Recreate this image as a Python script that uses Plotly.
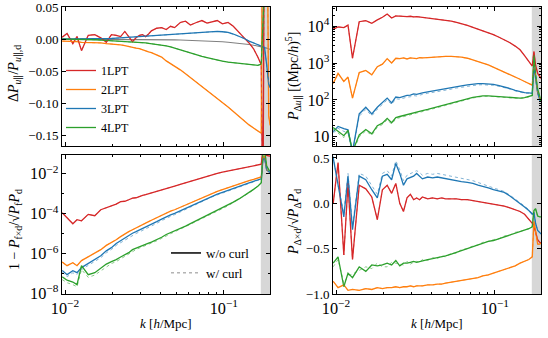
import plotly.graph_objects as go

# k bins [h/Mpc]
k = [0.0096, 0.0103, 0.0112, 0.0119, 0.0127, 0.0140, 0.0154, 0.0168, 0.0182, 0.0196,
     0.0210, 0.0224, 0.0238, 0.0252, 0.0266, 0.0280, 0.0294, 0.0308, 0.0322, 0.0336,
     0.0350, 0.0378, 0.0406, 0.0434, 0.0462, 0.0490, 0.0532, 0.0574, 0.0616, 0.0672,
     0.0728, 0.0784, 0.0840, 0.0910, 0.0980, 0.1064, 0.1148, 0.1246, 0.1344, 0.1442,
     0.1540, 0.1638, 0.1722, 0.1764, 0.1806, 0.1862, 0.1918, 0.1960]

labels = ['1LPT', '2LPT', '3LPT', '4LPT']
colors = ['#d62728', '#ff7f0e', '#1f77b4', '#2ca02c']

# top left: Delta P_u / P_u,d
dp_1 = [0.003, 0.009, -0.007, 0.004, -0.018, 0.006, 0.007, 0.002, -0.005, 0.007,
        0.006, 0.004, 0.012, 0.003, -0.004, 0.002, 0.006, 0.007, 0.004, 0.008,
        0.013, 0.017, 0.018, 0.015, 0.020, 0.018, 0.026, 0.028, 0.022, 0.026,
        0.029, 0.025, 0.027, 0.029, 0.024, 0.026, 0.020, 0.010, 0.002, -0.006,
        -0.015, -0.028, -0.040, -0.300, 0.300, 0.300, 0.300, 0.300]
dp_2 = [-0.003, -0.003, -0.004, -0.004, -0.005, -0.005, -0.0055, -0.006, -0.007, -0.0075,
        -0.008, -0.009, -0.010, -0.011, -0.012, -0.014, -0.015, -0.017, -0.018, -0.020,
        -0.021, -0.024, -0.028, -0.034, -0.038, -0.042, -0.048, -0.054, -0.060, -0.067,
        -0.073, -0.079, -0.085, -0.092, -0.099, -0.106, -0.113, -0.121, -0.128, -0.134,
        -0.139, -0.143, -0.147, 0.300, 0.300, 0.300, -0.120, -0.135]
dp_3 = [0.0, 0.0, 0.0005, 0.0, 0.0005, 0.0, 0.001, 0.001, 0.0005, 0.001,
        0.0015, 0.002, 0.002, 0.0025, 0.003, 0.003, 0.0035, 0.004, 0.004, 0.0045,
        0.005, 0.0055, 0.006, 0.0065, 0.007, 0.0075, 0.008, 0.009, 0.0095, 0.010,
        0.011, 0.011, 0.0115, 0.012, 0.0115, 0.0105, 0.008, 0.005, 0.001, -0.003,
        -0.006, -0.008, -0.010, -0.011, -0.013, -0.040, -0.070, -0.076]
dp_4 = [0.0, 0.0, 0.0, -0.0003, -0.0003, -0.0005, -0.001, -0.0015, -0.002, -0.002,
        -0.0025, -0.003, -0.003, -0.0035, -0.004, -0.0045, -0.005, -0.0055, -0.006, -0.0065,
        -0.007, -0.008, -0.009, -0.0105, -0.012, -0.014, -0.017, -0.020, -0.0225, -0.025,
        -0.027, -0.029, -0.031, -0.033, -0.0345, -0.036, -0.037, -0.0385, -0.0395, -0.040,
        -0.041, -0.041, -0.039, 0.300, 0.300, 0.300, 0.300, 0.300]
dp_ref = [0.0, 0.0, 0.0, 0.0, 0.0, 0.0, 0.0, -0.0001, -0.0001, -0.0001,
          -0.0002, -0.0002, -0.0002, -0.0003, -0.0003, -0.0003, -0.0004, -0.0004, -0.0005, -0.0005,
          -0.0006, -0.0007, -0.0008, -0.0009, -0.0010, -0.0011, -0.0013, -0.0015, -0.0017, -0.0020,
          -0.0023, -0.0027, -0.0031, -0.0036, -0.0041, -0.0048, -0.0055, -0.0064, -0.0074, -0.0084,
          -0.0095, -0.0107, -0.0118, -0.0124, -0.0130, -0.0140, -0.0150, -0.0160]

# top right: P_Delta u
pu_1 = [8300, 9550, 9120, 10700, 1350, 13200, 14100, 12000, 14800, 17400,
        21400, 16600, 19100, 18600, 18600, 18200, 18600, 17800, 18200, 17800,
        17400, 17000, 16600, 15800, 15500, 14800, 13800, 12600, 11700, 10500,
        9330, 8320, 7590, 6760, 5890, 5010, 4270, 3550, 2880, 2290,
        1580, 1120, 830, 2040, 890, 525, 417, 380]
pu_2 = [280, 525, 316, 417, 112, 550, 630, 480, 795, 933,
        1320, 1000, 1350, 1320, 1380, 1290, 1380, 1350, 1320, 1410,
        1380, 1410, 1450, 1480, 1480, 1510, 1510, 1480, 1450, 1350,
        1230, 1120, 1000, 890, 776, 661, 562, 479, 417, 363,
        316, 282, 251, 1000, 400, 158, 112, 100]
pu_3 = [13.8, 19.1, 16.6, 15.5, 4.0, 41.7, 63.1, 41.7, 63.1, 83.2,
        112, 83.2, 120, 115, 126, 132, 135, 145, 141, 151,
        155, 166, 174, 182, 191, 200, 214, 229, 240, 257,
        269, 275, 275, 269, 263, 245, 229, 204, 182, 166,
        158, 155, 151, 794, 398, 158, 100, 89]
pu_3c = [12.5, 17, 14, 13, 3.5, 36, 55, 37, 56, 74,
         100, 75, 108, 104, 113, 119, 122, 131, 128, 137,
         141, 151, 158, 166, 174, 183, 196, 210, 221, 237,
         249, 256, 258, 254, 249, 234, 220, 197, 176, 161,
         153, 150, 147, 780, 390, 155, 98, 87]
pu_4 = [17.8, 13.8, 10.7, 15.0, 4.0, 11.2, 15.8, 12.0, 20.0, 23.4,
        31.6, 24.0, 33.1, 35.5, 38.0, 39.8, 42.7, 44.7, 46.8, 49.0,
        51.3, 55.0, 60.3, 64.6, 69.2, 74.1, 81.3, 89.1, 97.7, 107,
        117, 123, 129, 129, 126, 123, 120, 115, 112, 112,
        115, 123, 132, 1660, 500, 200, 112, 89]
pu_4c = [16, 12.5, 9.5, 13.5, 3.5, 10, 14.5, 11, 18, 21.5,
         29, 22, 30.5, 33, 35.5, 37, 40, 42, 44, 46,
         48, 52, 57, 61.5, 66, 71, 78, 86, 94.5, 104,
         113, 119, 125, 126, 123, 120, 117, 112, 109, 109,
         112, 120, 128, 1600, 480, 195, 110, 87]

# bottom left: 1 - P_fxd / sqrt(P_f P_d)
cc_1 = [1.12e-4, 6.3e-5, 3.16e-5, 5.0e-5, 4.4e-5, 9.3e-5, 7.9e-5, 1.58e-4, 2.0e-4, 2.5e-4,
        3.0e-4, 4.0e-4, 4.2e-4, 5.0e-4, 6.0e-4, 6.3e-4, 7.6e-4, 8.3e-4, 9.1e-4, 1.0e-3,
        1.07e-3, 1.26e-3, 1.51e-3, 1.78e-3, 2.09e-3, 2.4e-3, 2.95e-3, 3.55e-3, 4.27e-3, 5.25e-3,
        6.3e-3, 7.6e-3, 8.9e-3, 1.05e-2, 1.2e-2, 1.38e-2, 1.58e-2, 1.78e-2, 2.0e-2, 2.24e-2,
        2.5e-2, 2.75e-2, 3.0e-2, 0.16, 0.16, 0.083, 0.079, 0.076]
cc_2 = [3.8e-7, 2.5e-7, 3.5e-7, 2.5e-7, 4.5e-7, 6.8e-7, 1.05e-6, 1.58e-6, 2.6e-6, 3.5e-6,
        5.0e-6, 7.1e-6, 1.0e-5, 1.26e-5, 1.58e-5, 1.9e-5, 2.3e-5, 2.8e-5, 3.4e-5, 4.0e-5,
        4.7e-5, 6.3e-5, 8.5e-5, 1.1e-4, 1.35e-4, 1.58e-4, 2.1e-4, 2.75e-4, 3.55e-4, 4.9e-4,
        6.5e-4, 8.3e-4, 1.05e-3, 1.32e-3, 1.62e-3, 2.04e-3, 2.5e-3, 3.1e-3, 3.7e-3, 4.5e-3,
        5.2e-3, 6.0e-3, 6.9e-3, 0.063, 0.079, 0.0158, 0.0126, 0.0112]
cc_3 = [1.45e-7, 8.9e-8, 1.4e-7, 1.12e-7, 2.0e-7, 3.2e-7, 5.5e-7, 7.9e-7, 1.38e-6, 2.0e-6,
        3.2e-6, 4.5e-6, 5.6e-6, 7.6e-6, 1.05e-5, 1.26e-5, 1.5e-5, 1.78e-5, 2.1e-5, 2.5e-5,
        3.0e-5, 4.0e-5, 5.4e-5, 7.1e-5, 8.7e-5, 1.05e-4, 1.41e-4, 1.86e-4, 2.5e-4, 3.5e-4,
        4.7e-4, 6.0e-4, 7.6e-4, 9.5e-4, 1.17e-3, 1.45e-3, 1.78e-3, 2.24e-3, 2.8e-3, 3.5e-3,
        4.2e-3, 4.9e-3, 5.6e-3, 0.05, 0.063, 0.0158, 0.0126, 0.0112]
cc_3c = [1.2e-7, 7e-8, 1.1e-7, 9e-8, 1.6e-7, 2.6e-7, 4.4e-7, 6.3e-7, 1.1e-6, 1.6e-6,
         2.6e-6, 3.6e-6, 4.5e-6, 6.1e-6, 8.5e-6, 1.02e-5, 1.22e-5, 1.45e-5, 1.72e-5, 2.05e-5,
         2.5e-5, 3.3e-5, 4.5e-5, 6.0e-5, 7.4e-5, 9.0e-5, 1.22e-4, 1.62e-4, 2.2e-4, 3.1e-4,
         4.2e-4, 5.4e-4, 6.9e-4, 8.7e-4, 1.08e-3, 1.35e-3, 1.67e-3, 2.1e-3, 2.65e-3, 3.3e-3,
         4.0e-3, 4.7e-3, 5.4e-3, 0.05, 0.063, 0.0158, 0.0126, 0.0112]
cc_4 = [6.9e-8, 4.7e-8, 3.8e-8, 2.8e-8, 2.5e-7, 8.9e-8, 1.12e-7, 1.78e-7, 3.0e-7, 4.0e-7,
        5.0e-7, 6.8e-7, 8.9e-7, 1.12e-6, 1.58e-6, 1.9e-6, 2.24e-6, 2.6e-6, 3.0e-6, 3.4e-6,
        3.8e-6, 5.0e-6, 6.6e-6, 9.1e-6, 1.12e-5, 1.38e-5, 1.82e-5, 2.4e-5, 3.2e-5, 4.5e-5,
        6.0e-5, 7.9e-5, 1.05e-4, 1.41e-4, 1.9e-4, 2.6e-4, 3.8e-4, 5.5e-4, 7.9e-4, 1.15e-3,
        1.66e-3, 2.4e-3, 3.55e-3, 0.1, 0.16, 0.025, 0.0158, 0.0141]
cc_4c = [5e-8, 3.5e-8, 2.8e-8, 2.2e-8, 1.6e-7, 6.5e-8, 8.5e-8, 1.4e-7, 2.3e-7, 3.2e-7,
         4.0e-7, 5.5e-7, 7.2e-7, 9.2e-7, 1.3e-6, 1.6e-6, 1.9e-6, 2.2e-6, 2.6e-6, 2.95e-6,
         3.3e-6, 4.4e-6, 5.8e-6, 8.0e-6, 1.0e-5, 1.24e-5, 1.65e-5, 2.2e-5, 2.95e-5, 4.2e-5,
         5.6e-5, 7.4e-5, 9.9e-5, 1.33e-4, 1.8e-4, 2.5e-4, 3.6e-4, 5.2e-4, 7.5e-4, 1.1e-3,
         1.6e-3, 2.3e-3, 3.4e-3, 0.1, 0.16, 0.025, 0.0158, 0.0141]

# bottom right: P_Deltaxd / sqrt(P_Delta P_d)
cd_1 = [0.0, 0.45, -0.57, 0.22, -0.62, 0.2, 0.16, 0.07, -0.18, 0.15,
        0.2, 0.11, 0.22, 0.0, -0.09, 0.06, 0.1, 0.04, 0.06, 0.04,
        0.07, 0.05, 0.06, 0.05, 0.06, 0.05, 0.05, 0.05, 0.04, 0.04,
        0.03, 0.02, 0.01, 0.0, -0.01, -0.02, -0.03, -0.05, -0.07, -0.09,
        -0.12, -0.17, -0.22, -0.25, -0.32, -0.4, -0.43, -0.44]
cd_2 = [-0.86, -0.93, -0.9, -0.96, -0.95, -0.96, -0.94, -0.95, -0.93, -0.94,
        -0.93, -0.93, -0.92, -0.93, -0.92, -0.92, -0.91, -0.92, -0.91, -0.91,
        -0.91, -0.9, -0.9, -0.89, -0.89, -0.88, -0.87, -0.86, -0.85, -0.84,
        -0.83, -0.82, -0.8, -0.79, -0.77, -0.75, -0.73, -0.71, -0.69, -0.66,
        -0.64, -0.62, -0.59, -0.2, -0.3, -0.45, -0.45, -0.44]
cd_3 = [0.5, 0.18, -0.15, 0.3, -0.29, 0.3, 0.26, 0.15, 0.06, 0.3,
        0.32, 0.26, 0.44, 0.33, 0.2, 0.27, 0.29, 0.3, 0.33, 0.3,
        0.27, 0.29, 0.28, 0.29, 0.28, 0.27, 0.26, 0.25, 0.24, 0.23,
        0.22, 0.2, 0.19, 0.17, 0.15, 0.13, 0.12, 0.08, 0.04, 0.0,
        -0.04, -0.08, -0.12, -0.1, -0.22, -0.3, -0.33, -0.34]
cd_3c = [0.52, 0.2, -0.1, 0.33, -0.25, 0.33, 0.3, 0.2, 0.1, 0.33,
         0.36, 0.3, 0.47, 0.37, 0.25, 0.31, 0.33, 0.34, 0.36, 0.34,
         0.31, 0.33, 0.32, 0.33, 0.32, 0.31, 0.3, 0.29, 0.28, 0.26,
         0.25, 0.23, 0.21, 0.19, 0.17, 0.15, 0.13, 0.09, 0.05, 0.01,
         -0.03, -0.07, -0.11, -0.1, -0.22, -0.3, -0.33, -0.34]
cd_4 = [-0.66, -0.59, -0.92, -0.77, -0.82, -0.7, -0.75, -0.68, -0.69, -0.68,
        -0.66, -0.68, -0.63, -0.69, -0.66, -0.66, -0.65, -0.64, -0.65, -0.64,
        -0.63, -0.62, -0.61, -0.6, -0.59, -0.58, -0.56, -0.54, -0.52, -0.5,
        -0.48, -0.46, -0.44, -0.42, -0.41, -0.39, -0.37, -0.35, -0.33, -0.31,
        -0.3, -0.28, -0.26, -0.08, -0.06, -0.14, -0.15, -0.15]
cd_4c = [-0.7, -0.62, -0.88, -0.8, -0.78, -0.74, -0.7, -0.72, -0.66, -0.7,
         -0.7, -0.65, -0.66, -0.67, -0.68, -0.64, -0.67, -0.65, -0.64, -0.65,
         -0.62, -0.63, -0.6, -0.61, -0.58, -0.59, -0.55, -0.55, -0.51, -0.5,
         -0.47, -0.46, -0.43, -0.42, -0.4, -0.39, -0.36, -0.35, -0.32, -0.31,
         -0.29, -0.28, -0.25, -0.08, -0.06, -0.14, -0.15, -0.15]

panels = [
    ('x', 'y', [dp_1, dp_2, dp_3, dp_4], [dp_1, dp_2, dp_3, dp_4]),
    ('x2', 'y2', [pu_1, pu_2, pu_3, pu_4], [pu_1, pu_2, pu_3c, pu_4c]),
    ('x3', 'y3', [cc_1, cc_2, cc_3, cc_4], [cc_1, cc_2, cc_3c, cc_4c]),
    ('x4', 'y4', [cd_1, cd_2, cd_3, cd_4], [cd_1, cd_2, cd_3c, cd_4c]),
]

fig = go.Figure()

# shaded region beyond the trusted k range
for xa, ya, _, _ in panels:
    fig.add_shape(type='rect', xref=xa, yref=ya + ' domain', x0=0.171, x1=0.196, y0=0, y1=1,
                  fillcolor='rgba(150,150,150,0.38)', line_width=0, layer='below')

fig.add_trace(go.Scatter(x=k, y=dp_ref, xaxis='x', yaxis='y', mode='lines',
                         line=dict(color='#808080', width=1.1), showlegend=False))

for n, (xa, ya, solid, curl) in enumerate(panels):
    for i in range(4):
        fig.add_trace(go.Scatter(x=k, y=solid[i], xaxis=xa, yaxis=ya, mode='lines',
                                 line=dict(color=colors[i], width=1.3),
                                 name=labels[i], showlegend=(n == 0), legend='legend'))
    for i in range(4):
        fig.add_trace(go.Scatter(x=k, y=curl[i], xaxis=xa, yaxis=ya, mode='lines',
                                 line=dict(color=colors[i], width=1, dash='dot'),
                                 opacity=0.55, showlegend=False))

# legend entries for the curl styles
fig.add_trace(go.Scatter(x=[None], y=[None], xaxis='x3', yaxis='y3', mode='lines',
                         line=dict(color='black', width=1.5), name='w/o curl', legend='legend2'))
fig.add_trace(go.Scatter(x=[None], y=[None], xaxis='x3', yaxis='y3', mode='lines',
                         line=dict(color='rgba(0,0,0,0.45)', width=1, dash='dot'),
                         name='w/ curl', legend='legend2'))

W, H = 548, 338
xl = [62 / W, 270 / W]
xr = [333 / W, 541 / W]
yt = [1 - 146 / H, 1 - 7 / H]
yb = [1 - 294 / H, 1 - 155 / H]

base = dict(showline=True, linecolor='black', linewidth=1, mirror='allticks',
            ticks='inside', ticklen=4, tickwidth=1, tickcolor='black', automargin=False,
            ticklabeloverflow='allow',
            showgrid=False, zeroline=False, tickfont=dict(size=13, color='black'))
minor = dict(ticks='inside', ticklen=2, tickcolor='black', showgrid=False)
xbase = dict(base, type='log', range=[-2.019, -0.709], dtick=1, exponentformat='power',
             minor=minor)

fig.update_layout(
    width=W, height=H,
    margin=dict(l=0, r=0, t=0, b=0),
    paper_bgcolor='white', plot_bgcolor='white',
    font=dict(family='Liberation Serif', size=13, color='black'),
    xaxis=dict(xbase, domain=xl, anchor='y', showticklabels=False),
    xaxis2=dict(xbase, domain=xr, anchor='y2', showticklabels=False),
    xaxis3=dict(xbase, domain=xl, anchor='y3'),
    xaxis4=dict(xbase, domain=xr, anchor='y4'),
    yaxis=dict(base, domain=yt, anchor='x', range=[-0.167, 0.0502], dtick=0.05, tickformat='.2f'),
    yaxis2=dict(base, domain=yt, anchor='x2', type='log', range=[0.75, 4.52], dtick=1,
                exponentformat='power', minor=minor),
    yaxis3=dict(base, domain=yb, anchor='x3', type='log', range=[-8.02, -1.06], dtick=2,
                exponentformat='power', minor=dict(minor, dtick=1)),
    yaxis4=dict(base, domain=yb, anchor='x4', range=[-1.0, 0.533], dtick=0.5, tickformat='.1f'),
    legend=dict(x=61 / W, y=1 - 56 / H, xanchor='left', yanchor='top',
                bgcolor='rgba(0,0,0,0)', font=dict(size=12)),
    legend2=dict(x=166 / W, y=1 - 238 / H, xanchor='left', yanchor='top',
                 bgcolor='rgba(0,0,0,0)', font=dict(size=13)),
)

titles = [
    ('Δ<i>P</i><sub><i>u</i>∥</sub>/<i>P</i><sub><i>u</i>∥,d</sub>', 15, 74),
    ('<i>P</i><sub>Δ<i>u</i>∥</sub> [(Mpc/<i>h</i>)<sup>5</sup>]', 294, 77),
    ('1 − <i>P</i><sub>f×d</sub>/√<i>P</i><sub>f</sub><i>P</i><sub>d</sub>', 15, 230),
    ('<i>P</i><sub>Δ×d</sub>/√<i>P</i><sub>Δ</sub><i>P</i><sub>d</sub>', 294, 222),
]
for text, px, py in titles:
    fig.add_annotation(text=text, x=px / W, y=1 - py / H, xref='paper', yref='paper',
                       xanchor='center', yanchor='middle', textangle=-90,
                       showarrow=False, font=dict(size=14))
for px in [166, 437]:
    fig.add_annotation(text='<i>k</i> [<i>h</i>/Mpc]', x=px / W, y=1 - 323 / H,
                       xref='paper', yref='paper', xanchor='center', yanchor='middle',
                       showarrow=False, font=dict(size=13))

# the page body has a default 8px margin; drop it so the figure sits at the corner
fig.write_html('out.html', config={'displayModeBar': False},
               post_script="document.body.style.margin='0';")
